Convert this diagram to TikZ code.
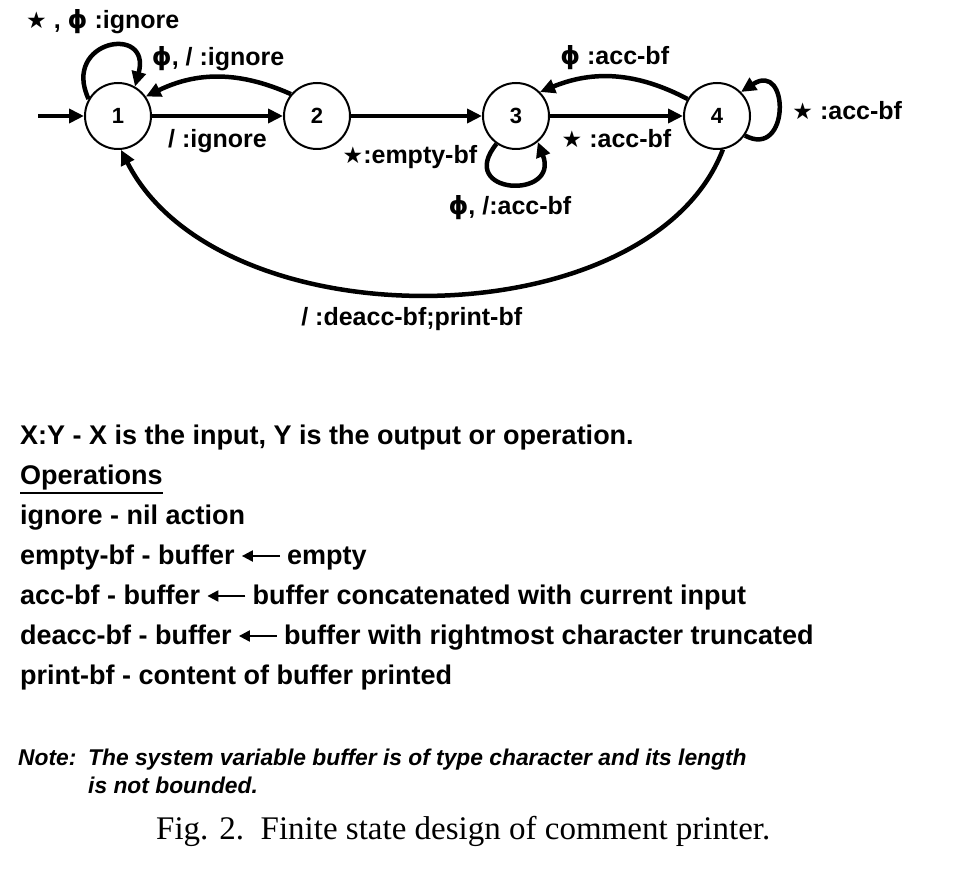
\documentclass[tikz,border=0pt]{standalone}
\usepackage{fontspec}
\setmainfont{Liberation Serif}
\setsansfont{Liberation Sans}
\newfontfamily\symfont{DejaVu Sans}
\usetikzlibrary{positioning,arrows.meta}

\newcommand{\stsym}{{\symfont\fontsize{23}{23}\selectfont ★}}
\newcommand{\phisym}{{\symfont\bfseries ϕ}}

\begin{document}
\begin{tikzpicture}[x=1pt,y=1pt,>={Triangle[length=15pt,width=14pt]}]

    %
    % Styles for states, moves and texts
    %
    \tikzstyle{state} = [draw, circle, line width=2pt, minimum size=66pt, inner sep=0pt,
                         font={\sffamily\bfseries\fontsize{22}{24}\selectfont}]
    \tikzstyle{move} = [black, line width=4.5pt, ->];
    \tikzstyle{moveLabel} = [inner sep=0pt, font={\sffamily\bfseries\fontsize{25}{27}\selectfont}];
    \tikzstyle{legendText} = [anchor=base west, inner sep=0pt, font={\sffamily\bfseries\fontsize{27}{29}\selectfont}];
    \tikzstyle{keyArrow} = [line width=2.2pt, -{Triangle[length=11pt,width=11pt]}];
    \tikzstyle{noteText} = [anchor=base west, inner sep=0pt, font={\sffamily\bfseries\itshape\fontsize{22.8}{24}\selectfont}];

    \path[use as bounding box, fill=white] (0,0) rectangle (968,-882);

    %
    % Position states
    %
    \node[state, name=one] at (118,-116) {1};
    \node[state, name=two, right=131pt of one] {2};
    \node[state, name=three, right=131pt of two] {3};
    \node[state, name=four, right=133pt of three] {4};
    \coordinate (entry) at (38,-116);

    %
    % Connect states via moves
    %
    \draw[move] (entry) -- (one);

    \draw[move] (one.150) .. controls +(115:65) and +(75:65) .. (one.60)
      node[moveLabel, pos=0.45, above=13pt]{\stsym\ , \phisym\ :ignore};

    \draw (one)
      edge[move] node[moveLabel, below=11pt]{/ :ignore}
      (two);
    \draw (two.140)
      edge[move, bend right=25] node[moveLabel, above=4pt]{\phisym, / :ignore}
      (one.35);

    \draw (two)
      edge[move]
      (three);

    \draw[move] (three.235) .. controls (455,-195) and (560,-200) .. (three.-50)
      node[moveLabel, pos=0.12, left=8pt, yshift=3pt]{\stsym:empty-bf}
      node[moveLabel, pos=0.5, below=9pt]{\phisym, /:acc-bf};

    \draw (three)
      edge[move] node[moveLabel, below=11pt]{\stsym\ :acc-bf}
      (four);
    \draw (four.150)
      edge[move, bend right=25] node[moveLabel, above=5pt]{\phisym\ :acc-bf}
      (three.45);

    \draw[move] (four.-35) .. controls (790,-160) and (790,-60) .. (four.45)
      node[moveLabel, pos=0.5, right=12pt]{\stsym\ :acc-bf};

    \draw[move] (four.-80) .. controls (650,-340) and (220,-345) .. (one.-85)
      node[moveLabel, pos=0.5, below=11pt, xshift=-20pt]{/ :deacc-bf;print-bf};

    %
    % Key to the operations
    %
    \node[legendText, name=key] at (20,-444) {X:Y - X is the input, Y is the output or operation.};
    \node[legendText, name=ops] at (20,-484) {Operations};
    \draw[line width=2pt] ([yshift=-3pt]ops.south west) -- ([yshift=-3pt]ops.south east);
    \node[legendText, name=ignore] at (20,-524) {ignore - nil action};

    \node[legendText, name=emptyL] at (20,-564) {empty-bf - buffer};
    \node[legendText, name=emptyR] at ([xshift=52pt]emptyL.base east) {empty};
    \node[legendText, name=accL] at (20,-604) {acc-bf - buffer};
    \node[legendText, name=accR] at ([xshift=52pt]accL.base east) {buffer concatenated with current input};
    \node[legendText, name=deaccL] at (20,-644) {deacc-bf - buffer};
    \node[legendText, name=deaccR] at ([xshift=52pt]deaccL.base east) {buffer with rightmost character truncated};
    \node[legendText, name=print] at (20,-684) {print-bf - content of buffer printed};

    \foreach \op in {empty, acc, deacc}
      \draw[keyArrow] ([xshift=-7pt, yshift=8pt]\op R.base west) -- ([xshift=7pt, yshift=8pt]\op L.base east);

    \node[noteText, name=note] at (18,-765) {Note:};
    \node[noteText, name=noteA] at (88,-765) {The system variable buffer is of type character and its length};
    \node[noteText, name=noteB] at (88,-793) {is not bounded.};

    \node[anchor=base west, inner sep=0pt, font={\rmfamily\fontsize{33}{35}\selectfont}, name=caption]
      at (156,-839) {Fig. 2.\ \ Finite state design of comment printer.};
  \end{tikzpicture}
\end{document}
